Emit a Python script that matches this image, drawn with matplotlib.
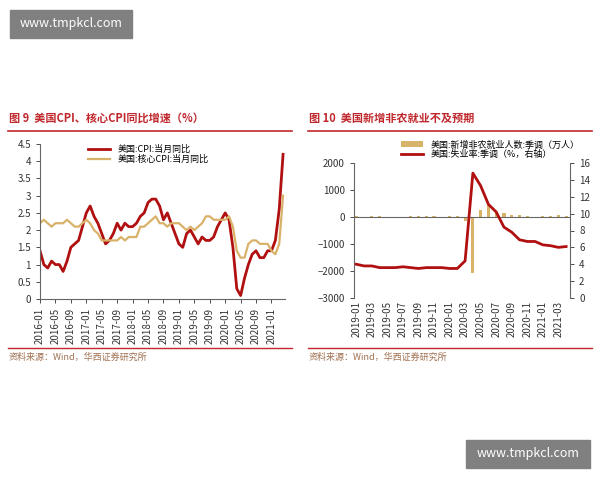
import matplotlib
matplotlib.use("Agg")
import matplotlib.pyplot as plt
from matplotlib.patches import Rectangle
from matplotlib.lines import Line2D
import numpy as np

plt.rcParams['font.family'] = ['Noto Sans CJK SC', 'DejaVu Sans']

# 图9 data: 2016-01 .. 2021-04
cpi_months = [f"{y}-{m:02d}" for y in range(2016, 2022) for m in range(1, 13)][:64]
cpi = [1.4, 1.0, 0.9, 1.1, 1.0, 1.0, 0.8, 1.1, 1.5, 1.6, 1.7, 2.1,
       2.5, 2.7, 2.4, 2.2, 1.9, 1.6, 1.7, 1.9, 2.2, 2.0, 2.2, 2.1,
       2.1, 2.2, 2.4, 2.5, 2.8, 2.9, 2.9, 2.7, 2.3, 2.5, 2.2, 1.9,
       1.6, 1.5, 1.9, 2.0, 1.8, 1.6, 1.8, 1.7, 1.7, 1.8, 2.1, 2.3,
       2.5, 2.3, 1.5, 0.3, 0.1, 0.6, 1.0, 1.3, 1.4, 1.2, 1.2, 1.4,
       1.4, 1.7, 2.6, 4.2]
core_cpi = [2.2, 2.3, 2.2, 2.1, 2.2, 2.2, 2.2, 2.3, 2.2, 2.1, 2.1, 2.2,
            2.3, 2.2, 2.0, 1.9, 1.7, 1.7, 1.7, 1.7, 1.7, 1.8, 1.7, 1.8,
            1.8, 1.8, 2.1, 2.1, 2.2, 2.3, 2.4, 2.2, 2.2, 2.1, 2.2, 2.2,
            2.2, 2.1, 2.0, 2.1, 2.0, 2.1, 2.2, 2.4, 2.4, 2.3, 2.3, 2.3,
            2.3, 2.4, 2.1, 1.4, 1.2, 1.2, 1.6, 1.7, 1.7, 1.6, 1.6, 1.6,
            1.4, 1.3, 1.6, 3.0]

# 图10 data: 2019-01 .. 2021-04
job_months = [f"{y}-{m:02d}" for y in range(2019, 2022) for m in range(1, 13)][:28]
payrolls = [31, 5, 19, 22, 8, 18, 16, 21, 21, 19, 26, 18,
            21, 25, -137, -2068, 272, 478, 176, 148, 71, 68, 26, -30,
            23, 54, 78, 27]
unemp = [4.0, 3.8, 3.8, 3.6, 3.6, 3.6, 3.7, 3.6, 3.5, 3.6, 3.6, 3.6,
         3.5, 3.5, 4.4, 14.8, 13.3, 11.1, 10.2, 8.4, 7.8, 6.9, 6.7, 6.7,
         6.3, 6.2, 6.0, 6.1]

RED = '#b01010'
GOLD = '#d9b26a'
TITLE = '#c0282d'
TXT = '#333333'
W, H = 600, 480

fig = plt.figure(figsize=(6, 4.8), dpi=100)

def fx(px):
    return px / W

def fy(py):
    return 1 - py / H

# watermarks
for (x0, y0, x1, y1) in [(10, 10, 132, 38), (466, 440, 590, 468)]:
    fig.patches.append(Rectangle((fx(x0), fy(y1)), fx(x1 - x0), (y1 - y0) / H,
                                 transform=fig.transFigure, color='#808080', zorder=5))
    fig.text(fx((x0 + x1) / 2), fy((y0 + y1) / 2), 'www.tmpkcl.com', color='white',
             fontsize=9, ha='center', va='center', zorder=6)

# titles, rules, source lines
for x0, x1, title in [(8, 292, '图 9  美国CPI、核心CPI同比增速（%）'),
                      (308, 592, '图 10  美国新增非农就业不及预期')]:
    fig.text(fx(x0 + 1), fy(118), title, color=TITLE, fontsize=8, va='center', fontweight='bold')
    fig.add_artist(Line2D([fx(x0), fx(x1)], [fy(131), fy(131)], color=TITLE, lw=1.2))
    fig.add_artist(Line2D([fx(x0), fx(x1)], [fy(348), fy(348)], color=TITLE, lw=1.0))
    fig.text(fx(x0 + 1), fy(357), '资料来源：Wind，华西证券研究所', color='#a07050', fontsize=6.5, va='center')

# left chart
ax1 = fig.add_axes([fx(40), fy(299), fx(245), (299 - 144) / H])
x1 = np.arange(len(cpi_months))
ax1.plot(x1, cpi, color=RED, lw=2, label='美国:CPI:当月同比')
ax1.plot(x1, core_cpi, color=GOLD, lw=1.6, label='美国:核心CPI:当月同比')
ax1.set_ylim(0, 4.5)
ax1.set_yticks(np.arange(0, 4.6, 0.5))
ax1.set_yticklabels(['0', '0.5', '1', '1.5', '2', '2.5', '3', '3.5', '4', '4.5'])
ax1.set_xlim(0, len(cpi_months) - 0.5)
ax1.set_xticks(x1[::4])
ax1.set_xticklabels(cpi_months[::4], rotation=90)
ax1.legend(loc='upper left', bbox_to_anchor=(0.18, 1.02), frameon=False, fontsize=6.5,
           handlelength=2.5, borderaxespad=0, labelspacing=0.1)

# right chart
ax2 = fig.add_axes([fx(354), fy(298), fx(216), (298 - 163) / H])
x2 = np.arange(len(job_months))
ax2.bar(x2, payrolls, color=GOLD, width=0.4, label='美国:新增非农就业人数:季调（万人）')
ax2.axhline(0, color='#666666', lw=0.8)
ax2.set_ylim(-3000, 2000)
ax2.set_yticks(range(-3000, 2001, 1000))
ax2.set_xlim(-0.3, len(job_months) - 0.5)
ax2.set_xticks(x2[::2])
ax2.set_xticklabels(job_months[::2], rotation=90)
ax3 = ax2.twinx()
ax3.plot(x2, unemp, color=RED, lw=2, label='美国:失业率:季调（%，右轴）')
ax3.set_ylim(0, 16)
ax3.set_yticks(range(0, 17, 2))
h1, l1 = ax2.get_legend_handles_labels()
h2, l2 = ax3.get_legend_handles_labels()
ax2.legend(h1 + h2, l1 + l2, loc='lower left', bbox_to_anchor=(0.2, 1.0), frameon=False,
           fontsize=6.5, handlelength=2.5, borderaxespad=0, labelspacing=0.1)

for ax in (ax1, ax2, ax3):
    for s in ax.spines.values():
        s.set_visible(False)
    ax.tick_params(labelsize=7, colors=TXT, length=3, width=0.6)
ax1.spines['left'].set_visible(True)
ax1.spines['bottom'].set_visible(True)
ax2.spines['left'].set_visible(True)
ax3.spines['right'].set_visible(True)
for ax in (ax1, ax2, ax3):
    for s in ax.spines.values():
        s.set_color('#666666')
        s.set_linewidth(0.8)
ax2.tick_params(axis='x', length=0, pad=2)

fig.savefig('out.png', dpi=100, facecolor='white')
